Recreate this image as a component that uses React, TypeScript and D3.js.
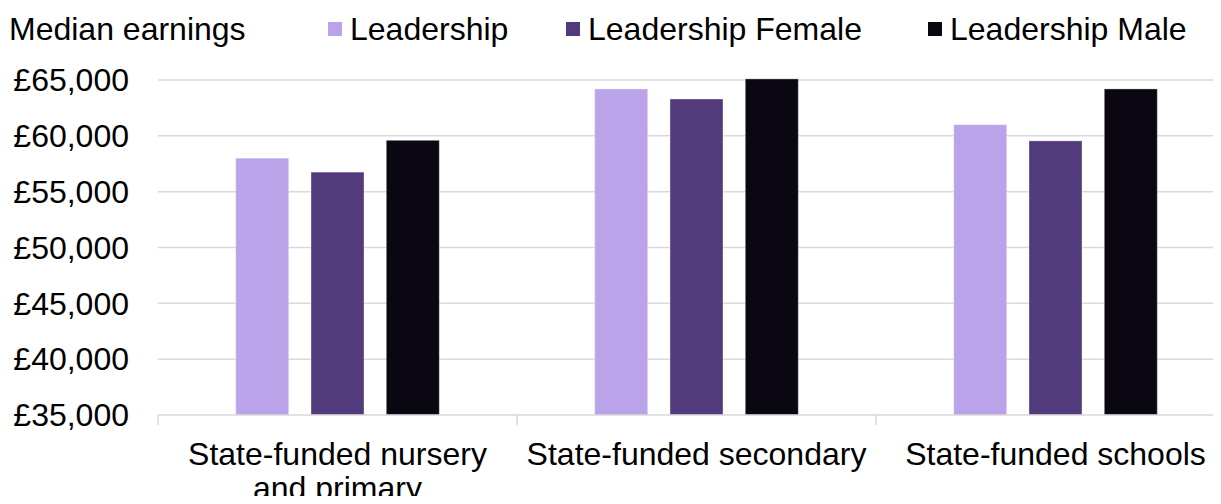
import React from "react";
import * as d3 from "d3";

const categories = [["State-funded nursery", "and primary"], ["State-funded secondary"], ["State-funded schools"]];
const seriesNames = ["Leadership", "Leadership Female", "Leadership Male"];
const leadership = [58000, 64200, 61000];
const leadershipFemale = [56750, 63300, 59550];
const leadershipMale = [59600, 65100, 64200];
const yTicks = [35000, 40000, 45000, 50000, 55000, 60000, 65000];
const colors = ["#BAA3E9", "#523B7D", "#0A0713"];

export default function App() {
  const W = 1221, H = 504;
  const font = "Liberation Sans, Arial, sans-serif";
  const fs = 32;
  const series = [leadership, leadershipFemale, leadershipMale];
  const y = d3.scaleLinear().domain([35000, 65000]).range([415, 80]);
  const x0 = d3.scaleBand<number>().domain([0, 1, 2]).range([158, 1235]).padding(0);
  const x1 = d3.scaleBand<number>().domain([0, 1, 2]).range([0, x0.bandwidth()]).paddingInner(0.296).paddingOuter(1.032);
  const fmt = (v: number) => "£" + d3.format(",")(v);
  const legendX = [328, 566, 928];
  return (
    <div style={{ margin: -8 }}>
      <svg width={W} height={H} style={{ display: "block" }} fontFamily={font}>
        <rect width={W} height={H} fill="#fff" />
        <text x={9} y={40} fontSize={fs} fill="#000">Median earnings</text>
        {seriesNames.map((s, i) => (
          <g key={s}>
            <rect x={legendX[i]} y={22} width={14} height={14} fill={colors[i]} />
            <text x={legendX[i] + 22} y={40} fontSize={fs} fill="#000">{s}</text>
          </g>
        ))}
        {yTicks.map((t) => (
          <g key={t}>
            {t !== 35000 && <line x1={158} x2={W} y1={y(t)} y2={y(t)} stroke="#D9D9D9" strokeWidth={1.5} />}
            <text x={129} y={y(t)} dy="0.35em" textAnchor="end" fontSize={fs} fill="#000">{fmt(t)}</text>
          </g>
        ))}
        {categories.map((c, gi) => (
          <g key={gi} transform={`translate(${x0(gi)},0)`}>
            {series.map((vals, si) => (
              <rect key={si} x={x1(si)} y={y(vals[gi])} width={x1.bandwidth()} height={y(35000) - y(vals[gi])}
                fill={colors[si]} stroke="#ffffff" strokeOpacity={0.35} strokeWidth={1} />
            ))}
          </g>
        ))}
        <line x1={158} x2={W} y1={415} y2={415} stroke="#D9D9D9" strokeWidth={1.5} />
        {[0, 1, 2].map((i) => (
          <line key={i} x1={x0(i)} x2={x0(i)} y1={415} y2={425} stroke="#D9D9D9" strokeWidth={1.5} />
        ))}
        {categories.map((c, gi) => (
          <text key={gi} x={(x0(gi) as number) + x0.bandwidth() / 2} y={465} textAnchor="middle" fontSize={fs} fill="#000">
            {c.map((line, li) => (
              <tspan key={li} x={(x0(gi) as number) + x0.bandwidth() / 2} dy={li === 0 ? 0 : 34}>{line}</tspan>
            ))}
          </text>
        ))}
      </svg>
    </div>
  );
}
